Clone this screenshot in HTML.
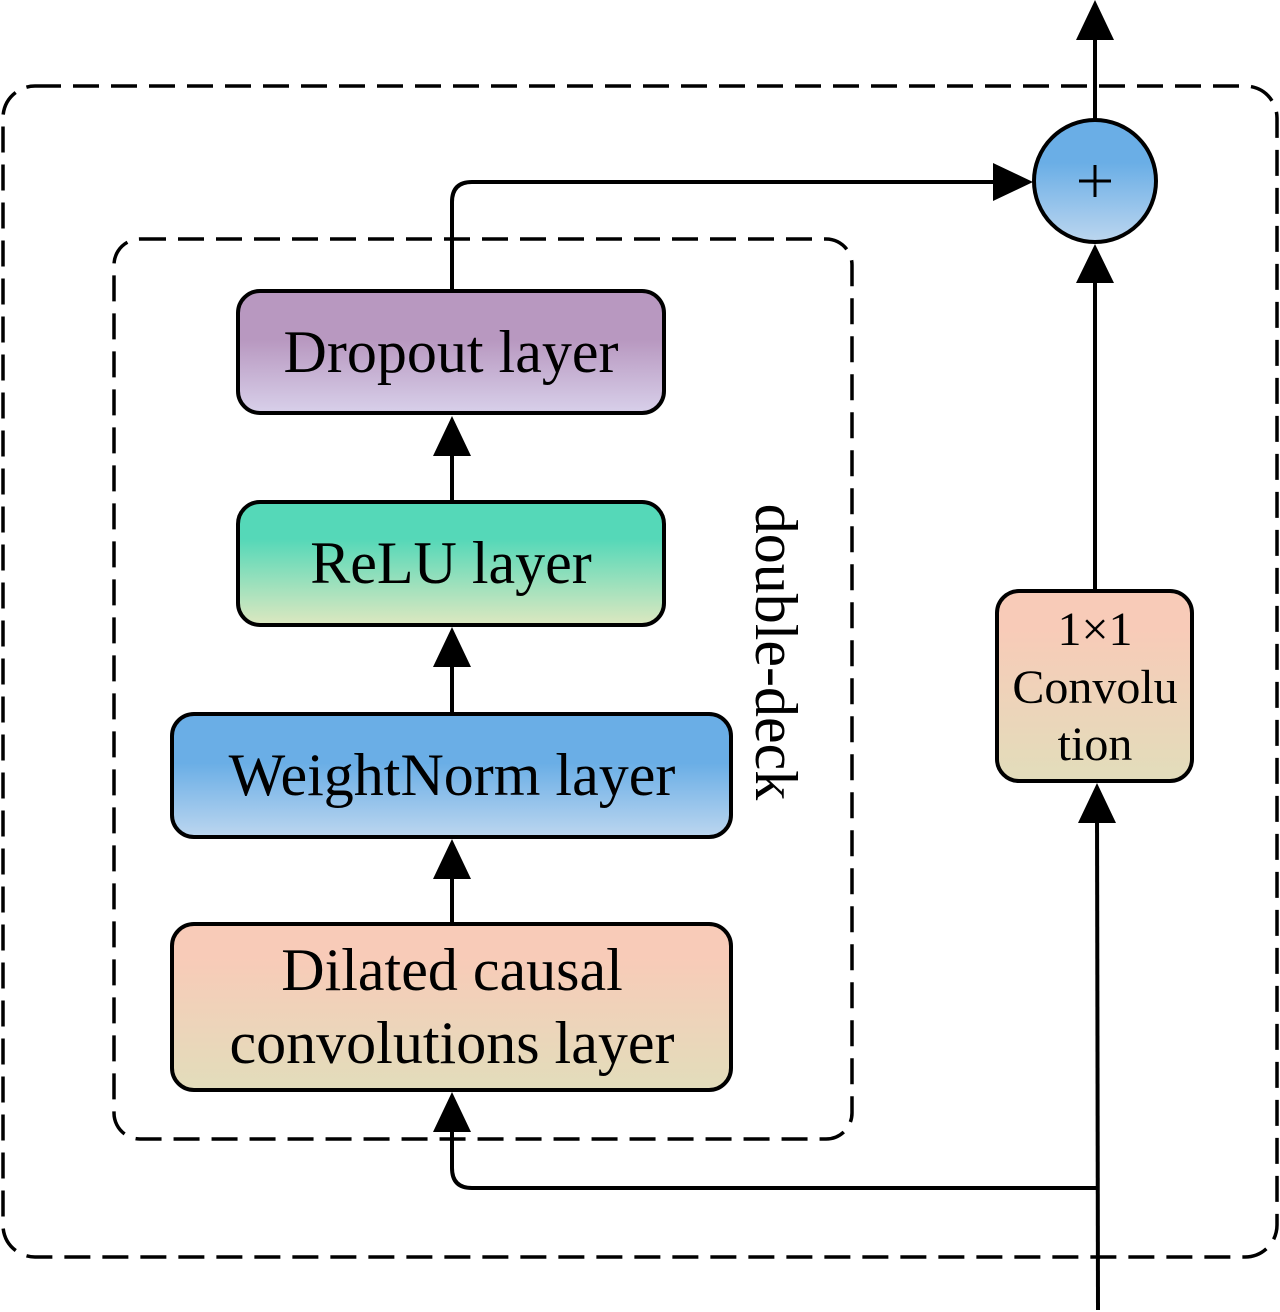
<!DOCTYPE html>
<html><head><meta charset="utf-8"><style>html,body{margin:0;padding:0;background:#fff}svg{display:block}</style></head>
<body>
<svg width="1280" height="1312" viewBox="0 0 1280 1312" xmlns="http://www.w3.org/2000/svg" font-family="'Liberation Serif', serif">
<defs>
<linearGradient id="gp" x1="0" y1="0" x2="0" y2="1"><stop offset="0.4" stop-color="#b898c0"/><stop offset="1" stop-color="#d8d0ea"/></linearGradient>
<linearGradient id="gt" x1="0" y1="0" x2="0" y2="1"><stop offset="0.3" stop-color="#55d8b8"/><stop offset="1" stop-color="#dde8c0"/></linearGradient>
<linearGradient id="gb" x1="0" y1="0" x2="0" y2="1"><stop offset="0.4" stop-color="#6aaee6"/><stop offset="1" stop-color="#bcd6ef"/></linearGradient>
<linearGradient id="go" x1="0" y1="0" x2="0" y2="1"><stop offset="0.2" stop-color="#f8cbb8"/><stop offset="1" stop-color="#e2ddbb"/></linearGradient>
<linearGradient id="gc" x1="0" y1="0" x2="0" y2="1"><stop offset="0.35" stop-color="#6aaee6"/><stop offset="1" stop-color="#bcd6ef"/></linearGradient>
</defs>
<g fill="none" stroke="#000" stroke-width="3.5" stroke-dasharray="26 12">
<rect x="3" y="86" width="1274" height="1171" rx="32"/>
<rect x="114" y="239" width="738" height="900" rx="26"/>
</g>
<g stroke="#000" stroke-width="4" fill="none">
<line x1="452" y1="500" x2="452" y2="440"/>
<line x1="452" y1="713" x2="452" y2="650"/>
<line x1="452" y1="923" x2="452" y2="862"/>
<path d="M1098 1188 H472 Q452 1188 452 1168 V1118"/>
<path d="M452 291 V202 Q452 182 472 182 H1000"/>
<line x1="1098" y1="1310" x2="1097" y2="808"/>
<line x1="1095" y1="590" x2="1095" y2="270"/>
<line x1="1095" y1="120" x2="1095" y2="30"/>
</g>
<g fill="#000">
<polygon points="452,416 433,456 471,456"/>
<polygon points="452,627 433,667 471,667"/>
<polygon points="452,839 433,879 471,879"/>
<polygon points="452,1092 433,1132 471,1132"/>
<polygon points="1033,182 993,163 993,201"/>
<polygon points="1097,783 1078,823 1116,823"/>
<polygon points="1095,244 1076,283 1114,283"/>
<polygon points="1095,0 1076,40 1114,40"/>
</g>
<g stroke="#000" stroke-width="4">
<rect x="238" y="291" width="426" height="122" rx="22" fill="url(#gp)"/>
<rect x="238" y="502" width="426" height="123" rx="22" fill="url(#gt)"/>
<rect x="172" y="714" width="559" height="123" rx="22" fill="url(#gb)"/>
<rect x="172" y="924" width="559" height="166" rx="22" fill="url(#go)"/>
<rect x="997" y="591" width="195" height="190" rx="22" fill="url(#go)"/>
<circle cx="1095" cy="181" r="61" fill="url(#gc)"/>
</g>
<g stroke="#000" stroke-width="3"><line x1="1079" y1="181" x2="1111" y2="181"/><line x1="1095" y1="165" x2="1095" y2="197"/></g>
<g fill="#000" text-anchor="middle" font-size="60">
<text x="451" y="372">Dropout layer</text>
<text x="451" y="583">ReLU layer</text>
<text x="452" y="795">WeightNorm layer</text>
<text x="452" y="990">Dilated causal</text>
<text x="452" y="1063">convolutions layer</text>
<g font-size="48"><text x="1095" y="645">1×1</text><text x="1095" y="703">Convolu</text><text x="1095" y="760">tion</text></g>
<text transform="translate(756,652) rotate(90)" font-size="60">double-deck</text>
</g>
</svg>
</body></html>
